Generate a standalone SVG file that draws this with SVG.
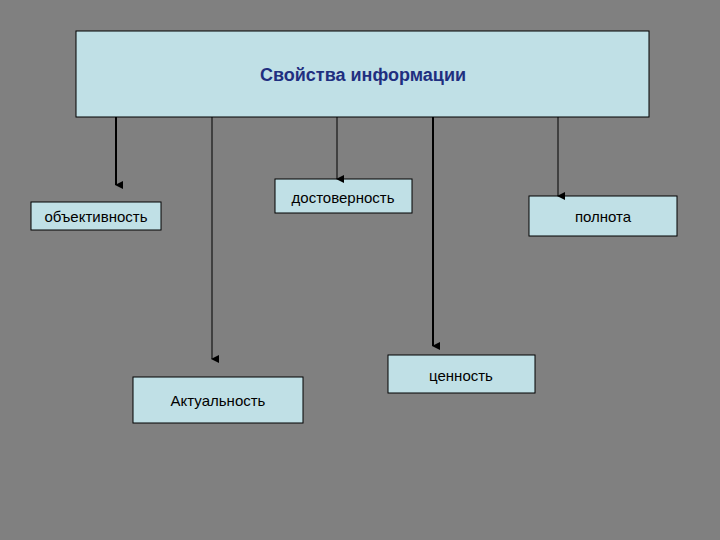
<svg xmlns="http://www.w3.org/2000/svg" width="720" height="540" viewBox="0 0 720 540">
<style>
.b{fill:#c0e0e6;stroke:#000;stroke-width:1}
.t{font-family:"Liberation Sans",Arial,sans-serif;font-size:15px;fill:#000;text-anchor:middle}
.c{stroke:#000;fill:none}
</style>
<defs><marker id="a" markerWidth="8" markerHeight="8" refX="4" refY="7" orient="auto" markerUnits="userSpaceOnUse"><path d="M0,0 L8,0 L4,8 z" transform="rotate(-90 4 4) rotate(90 4 4)" fill="#000"/></marker></defs>
<rect width="720" height="540" fill="#808080"/>
<g id="title"><rect class="b" x="76" y="31" width="573" height="86"/><text class="t" x="363" y="81" style="font-weight:bold;font-size:18px;fill:#1f2f80">Свойства информации</text></g>
<g id="n1"><rect class="b" x="31" y="202" width="130" height="28"/><text class="t" x="96" y="222">объективность</text></g>
<g id="n2"><rect class="b" x="275" y="179" width="137" height="34"/><text class="t" x="343" y="203">достоверность</text></g>
<g id="n3"><rect class="b" x="529" y="196" width="148" height="40"/><text class="t" x="603" y="222">полнота</text></g>
<g id="n4"><rect class="b" x="388" y="355" width="147" height="38"/><text class="t" x="461" y="381">ценность</text></g>
<g id="n5"><rect class="b" x="133" y="377" width="170" height="46"/><text class="t" x="218" y="406">Актуальность</text></g>
<g id="connectors">
<line class="c" x1="116" y1="117" x2="116" y2="185" stroke-width="2" marker-end="url(#a)"/>
<line class="c" x1="212" y1="117" x2="212" y2="359" marker-end="url(#a)"/>
<line class="c" x1="337" y1="117" x2="337" y2="179" marker-end="url(#a)"/>
<line class="c" x1="433" y1="117" x2="433" y2="346" stroke-width="2" marker-end="url(#a)"/>
<line class="c" x1="558" y1="117" x2="558" y2="196" marker-end="url(#a)"/>
</g>
</svg>
